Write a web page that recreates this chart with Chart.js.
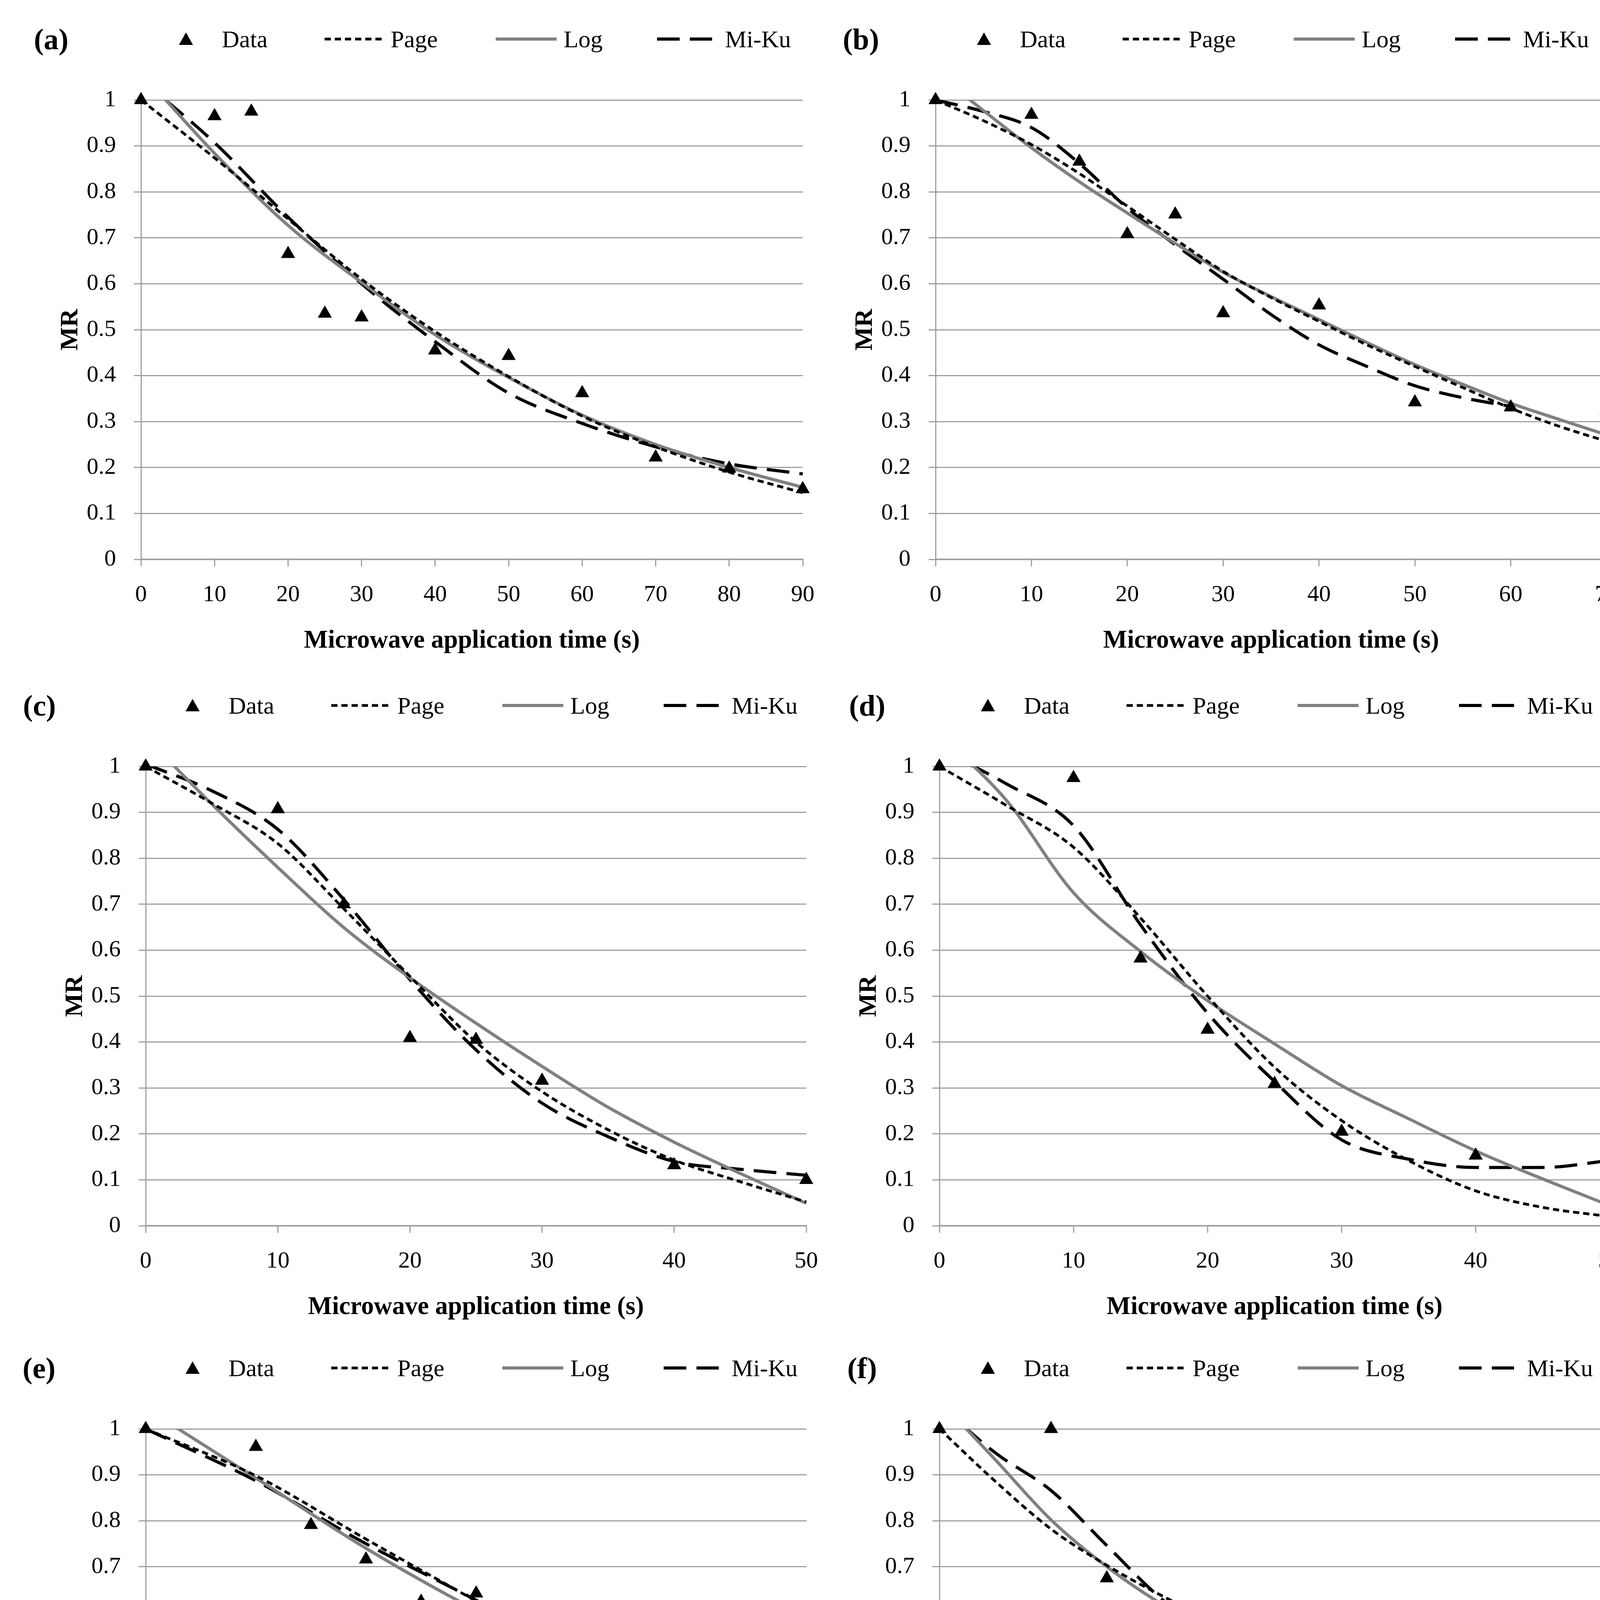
<!DOCTYPE html>
<html lang="en">
<head>
<meta charset="UTF-8">
<title>Moisture ratio vs microwave application time</title>
<script src="https://cdn.jsdelivr.net/npm/chart.js"></script>
<style>
  html, body { margin: 0; padding: 0; background: #fff; }
  #page { position: relative; width: 4204px; height: 5119px; overflow: hidden; background: #fff;
          font-family: 'Palatino Linotype', 'Book Antiqua', Palatino, 'Liberation Serif', serif; }
  .panel { position: absolute; }
  .tag { position: absolute; transform: translate(-50%, -50%); font-weight: bold; font-size: 76px; line-height: 1; }
  .lg-text { position: absolute; transform: translateY(-50%); font-size: 62px; line-height: 1; white-space: nowrap; }
  .lg-sym { position: absolute; transform: translateY(-50%); display: block; }
</style>
</head>
<body>
<div id="page"></div>
<script>
// ---- values ----
const yTickLabels = ['0', '0.1', '0.2', '0.3', '0.4', '0.5', '0.6', '0.7', '0.8', '0.9', '1'];
const seriesNames = ['Data', 'Page', 'Log', 'Mi-Ku'];
const xTitle = 'Microwave application time (s)';
const yTitle = 'MR';

// (a)
const timeA = [0, 10, 15, 20, 25, 30, 40, 50, 60, 70, 80, 90];
const dataA = [1.0, 0.965, 0.975, 0.665, 0.535, 0.527, 0.455, 0.443, 0.362, 0.222, 0.198, 0.153];
const fitTimeA = [0, 10, 20, 30, 40, 50, 60, 70, 80, 90];
const pageA = [1.0, 0.874, 0.741, 0.61, 0.496, 0.398, 0.312, 0.245, 0.19, 0.145];
const logA = [1.06, 0.884, 0.727, 0.603, 0.489, 0.396, 0.314, 0.25, 0.2, 0.157];
const mikuA = [1.045, 0.907, 0.745, 0.6, 0.474, 0.362, 0.296, 0.245, 0.208, 0.186];

// (b)
const timeB = [0, 10, 15, 20, 25, 30, 40, 50, 60, 70];
const dataB = [1.0, 0.968, 0.866, 0.708, 0.751, 0.536, 0.553, 0.342, 0.331, 0.322];
const fitTimeB = [0, 5, 10, 15, 20, 25, 30, 35, 40, 45, 50, 55, 60, 65, 70];
const pageB = [1.0, 0.955, 0.903, 0.84, 0.769, 0.697, 0.627, 0.57, 0.518, 0.467, 0.42, 0.374, 0.329, 0.29, 0.257];
const logB = [1.059, 0.977, 0.896, 0.822, 0.754, 0.688, 0.625, 0.572, 0.522, 0.472, 0.424, 0.381, 0.34, 0.305, 0.271];
const mikuB = [1.0, 0.975, 0.94, 0.862, 0.765, 0.685, 0.61, 0.533, 0.467, 0.42, 0.378, 0.352, 0.333, null, null];

// (c)
const timeC = [0, 10, 15, 20, 25, 30, 40, 50];
const dataC = [1.0, 0.907, 0.70, 0.409, 0.405, 0.316, 0.132, 0.10];
const fitTimeC = [0, 5, 10, 15, 20, 25, 30, 35, 40, 45, 50];
const pageC = [1.0, 0.92, 0.832, 0.69, 0.543, 0.40, 0.292, 0.209, 0.143, 0.096, 0.052];
const logC = [1.064, 0.918, 0.78, 0.649, 0.54, 0.441, 0.347, 0.258, 0.182, 0.114, 0.049];
const mikuC = [1.005, 0.947, 0.863, 0.71, 0.536, 0.383, 0.267, 0.194, 0.14, 0.123, 0.11];

// (d)
const timeD = [0, 10, 15, 20, 25, 30, 40, 50];
const dataD = [1.0, 0.975, 0.582, 0.427, 0.309, 0.205, 0.153, 0.102];
const fitTimeD = [0, 5, 10, 15, 20, 25, 30, 35, 40, 45, 50];
const pageD = [1.0, 0.915, 0.824, 0.67, 0.5, 0.345, 0.229, 0.142, 0.076, 0.04, 0.02];
const logD = [1.07, 0.926, 0.725, 0.597, 0.49, 0.396, 0.305, 0.233, 0.163, 0.102, 0.044];
const mikuD = [1.038, 0.962, 0.871, 0.655, 0.463, 0.314, 0.187, 0.145, 0.127, 0.127, 0.142];

// (e)
const timeE = [0, 10, 15, 20, 25, 30, 40, 50, 60];
const dataE = [1.0, 0.961, 0.791, 0.716, 0.624, 0.642, 0.512, 0.413, 0.202];
const fitTimeE = [0, 10, 20, 30, 40, 50, 60];
const pageE = [1.0, 0.898, 0.76, 0.625, 0.488, 0.37, 0.275];
const logE = [1.045, 0.893, 0.74, 0.605, 0.486, 0.376, 0.283];
const mikuE = [1.0, 0.887, 0.75, 0.627, 0.496, 0.372, 0.238];

// (f)
const timeF = [0, 10, 15, 20, 25, 30, 40, 50, 60];
const dataF = [1.0, 1.0, 0.675, 0.575, 0.532, 0.454, 0.426, 0.356, 0.365];
const fitTimeF = [0, 5, 10, 15, 20, 25, 30, 35, 40, 45, 50, 55, 60];
const pageF = [1.0, 0.886, 0.782, 0.703, 0.636, 0.577, 0.527, 0.482, 0.442, 0.404, 0.368, 0.336, 0.305];
const logF = [1.062, 0.933, 0.802, 0.70, 0.617, 0.548, 0.507, 0.465, 0.428, 0.396, 0.367, 0.345, 0.327];
const mikuF = [1.052, 0.948, 0.866, 0.746, 0.628, 0.545, 0.468, 0.418, 0.37, 0.35, 0.334, 0.33, 0.338];

const panels = [
  { tag: '(a)', xMax: 90, time: timeA, data: dataA, fit: fitTimeA, page: pageA, log: logA, miku: mikuA },
  { tag: '(b)', xMax: 70, time: timeB, data: dataB, fit: fitTimeB, page: pageB, log: logB, miku: mikuB },
  { tag: '(c)', xMax: 50, time: timeC, data: dataC, fit: fitTimeC, page: pageC, log: logC, miku: mikuC },
  { tag: '(d)', xMax: 50, time: timeD, data: dataD, fit: fitTimeD, page: pageD, log: logD, miku: mikuD },
  { tag: '(e)', xMax: 60, time: timeE, data: dataE, fit: fitTimeE, page: pageE, log: logE, miku: mikuE },
  { tag: '(f)', xMax: 60, time: timeF, data: dataF, fit: fitTimeF, page: pageF, log: logF, miku: mikuF }
];

// ---- page layout (pixels) ----
const frames = [
  { row: 0, L: 361,  R: 2062, tagX: 131,  legX: 476 },
  { row: 0, L: 2395, R: 4120, tagX: 2204, legX: 2519 },
  { row: 1, L: 373,  R: 2071, tagX: 101,  legX: 493 },
  { row: 1, L: 2405, R: 4128, tagX: 2220, legX: 2529 },
  { row: 2, L: 373,  R: 2072, tagX: 100,  legX: 493 },
  { row: 2, L: 2405, R: 4126, tagX: 2207, legX: 2529 }
];
const ROW_TOP = [0, 1706, 3402];
const AREA_TOP = 244, AREA_BOTTOM = 1432, LEGEND_CY = 100;
const Y_AXIS_W = 250, X_AXIS_H = 260, PAD_L = 20, PAD_R = 60, PAD_T = 70;
// legend pieces, measured from the centre of the Data marker
const LEG_SYM_X = [0, 355, 793, 1206];
const LEG_SYM_LEN = [38, 156, 156, 141];
const LEG_TEXT_X = [92, 524, 967, 1380];
const GRID = '#a0a0a0';
const FONT = "'Palatino Linotype', 'Book Antiqua', Palatino, 'Liberation Serif', serif";

Chart.defaults.font.family = FONT;
Chart.defaults.color = '#000';

function pts(xs, ys) {
  return xs.map((x, i) => ({ x: x, y: ys[i] })).filter(p => p.y !== null);
}

const SVGNS = 'http://www.w3.org/2000/svg';
function legendSymbol(ds, len) {
  const h = 40;
  const svg = document.createElementNS(SVGNS, 'svg');
  svg.setAttribute('width', len);
  svg.setAttribute('height', h);
  svg.setAttribute('class', 'lg-sym');
  if (ds.pointStyle === 'triangle') {
    const tri = document.createElementNS(SVGNS, 'polygon');
    tri.setAttribute('points', `${len / 2},3 ${len - 1},${h - 5} 1,${h - 5}`);
    tri.setAttribute('fill', ds.pointBackgroundColor);
    svg.appendChild(tri);
  } else {
    const ln = document.createElementNS(SVGNS, 'line');
    ln.setAttribute('x1', 0); ln.setAttribute('x2', len);
    ln.setAttribute('y1', h / 2); ln.setAttribute('y2', h / 2);
    ln.setAttribute('stroke', ds.borderColor);
    ln.setAttribute('stroke-width', ds.borderWidth);
    if (ds.borderDash) ln.setAttribute('stroke-dasharray', ds.borderDash.join(' '));
    svg.appendChild(ln);
  }
  return svg;
}

const curveClip = { left: 5, top: 0, right: 5, bottom: 5 };
const page = document.getElementById('page');

panels.forEach((p, k) => {
  const f = frames[k];
  const rowTop = ROW_TOP[f.row];
  const left = f.L - Y_AXIS_W - PAD_L;
  const top = rowTop + AREA_TOP - PAD_T;
  const width = f.R + PAD_R - left;
  const height = rowTop + AREA_BOTTOM + X_AXIS_H - top;

  const box = document.createElement('div');
  box.className = 'panel';
  box.style.cssText = `left:${left}px;top:${top}px;width:${width}px;height:${height}px;`;
  const cv = document.createElement('canvas');
  box.appendChild(cv);
  page.appendChild(box);

  const tag = document.createElement('div');
  tag.className = 'tag';
  tag.textContent = p.tag;
  tag.style.left = f.tagX + 'px';
  tag.style.top = (rowTop + LEGEND_CY) + 'px';
  page.appendChild(tag);

  const chart = new Chart(cv, {
    type: 'line',
    data: {
      datasets: [
        {
          label: seriesNames[0], data: pts(p.time, p.data), showLine: false,
          pointStyle: 'triangle', pointRadius: 20, pointHoverRadius: 20,
          pointBackgroundColor: '#000', pointBorderColor: '#000', pointBorderWidth: 1,
          borderColor: '#000', backgroundColor: '#000', clip: false
        },
        {
          label: seriesNames[1], data: pts(p.fit, p.page), borderColor: '#000', borderWidth: 7,
          borderDash: [16, 10], pointRadius: 0, cubicInterpolationMode: 'monotone', clip: curveClip
        },
        {
          label: seriesNames[2], data: pts(p.fit, p.log), borderColor: '#808080', borderWidth: 8,
          pointRadius: 0, cubicInterpolationMode: 'monotone', clip: curveClip
        },
        {
          label: seriesNames[3], data: pts(p.fit, p.miku), borderColor: '#000', borderWidth: 8,
          borderDash: [58, 26], pointRadius: 0, cubicInterpolationMode: 'monotone', clip: curveClip
        }
      ]
    },
    options: {
      responsive: true,
      maintainAspectRatio: false,
      devicePixelRatio: 1,
      animation: false,
      events: [],
      layout: { padding: { left: PAD_L, right: PAD_R, top: PAD_T, bottom: 0 } },
      plugins: {
        tooltip: { enabled: false },
        legend: { display: false }
      },
      scales: {
        x: {
          type: 'linear', min: 0, max: p.xMax,
          afterFit: (s) => { s.height = X_AXIS_H; },
          ticks: { stepSize: 10, font: { size: 60 }, padding: 37, color: '#000', maxRotation: 0 },
          grid: { drawOnChartArea: false, drawTicks: true, tickLength: 18, color: GRID, lineWidth: 3 },
          border: { display: true, color: GRID, width: 4 },
          title: {
            display: true, text: xTitle, color: '#000',
            font: { size: 65, weight: 'bold' }, padding: { top: 0, bottom: 12 }
          }
        },
        y: {
          min: 0, max: 1,
          afterFit: (s) => { s.width = Y_AXIS_W; },
          ticks: {
            stepSize: 0.1, font: { size: 60 }, padding: 46, color: '#000',
            callback: (v, i) => yTickLabels[i]
          },
          grid: { drawTicks: true, tickLength: 18, color: GRID, lineWidth: 3 },
          border: { display: true, color: GRID, width: 3 },
          title: {
            display: true, text: yTitle, color: '#000',
            font: { size: 64, weight: 'bold' }, padding: { top: 32, bottom: 0 }
          }
        }
      }
    }
  });

  // HTML legend built from the chart's own datasets
  const cy = rowTop + LEGEND_CY;
  chart.data.datasets.forEach((ds, i) => {
    const sym = legendSymbol(ds, LEG_SYM_LEN[i]);
    const sx = i === 0 ? f.legX - LEG_SYM_LEN[0] / 2 : f.legX + LEG_SYM_X[i];
    sym.style.left = sx + 'px';
    sym.style.top = cy + 'px';
    page.appendChild(sym);
    const t = document.createElement('div');
    t.className = 'lg-text';
    t.textContent = ds.label;
    t.style.left = (f.legX + LEG_TEXT_X[i]) + 'px';
    t.style.top = cy + 'px';
    page.appendChild(t);
  });
});
</script>
</body>
</html>
